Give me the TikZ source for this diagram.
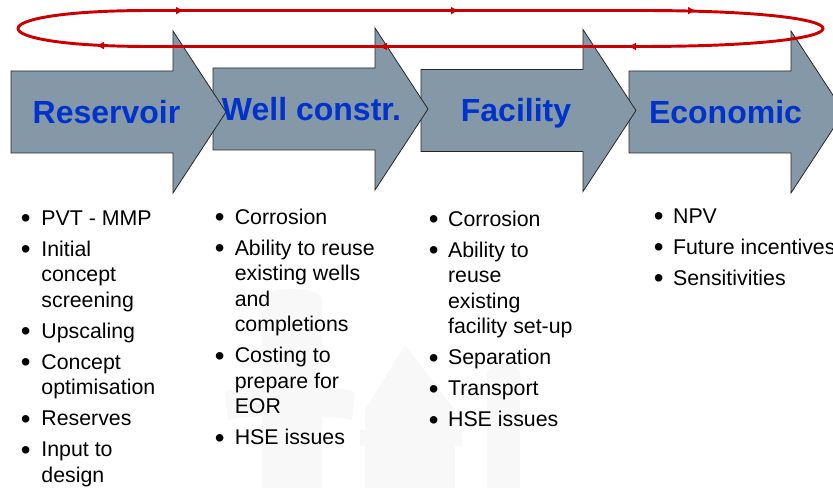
\documentclass[tikz,border=0pt]{standalone}
\usepackage{fontspec}
\setmainfont{Liberation Sans}
\usetikzlibrary{arrows.meta}

\definecolor{stagegray}{RGB}{133,152,168}
\definecolor{stageblue}{RGB}{0,51,204}
\definecolor{cyclered}{RGB}{204,0,0}
\definecolor{markgray}{RGB}{248,248,248}

\tikzset{
  stage/.style={fill=stagegray, draw=black!85, line width=0.6pt, line join=miter},
  stagelabel/.style={anchor=base, inner sep=0pt, text=stageblue,
    font=\fontsize{24}{28}\selectfont\bfseries},
  tasklist/.style={anchor=base west, inner sep=0pt, font=\fontsize{16}{19.1}\selectfont},
  cyclepath/.style={draw=cyclered, line width=2.2pt},
  cycletip/.style={cyclepath, -{Latex[length=6pt,width=6pt]}},
}
\newcommand{\itemgap}{4.1pt}
\newcommand{\blt}{\raisebox{-1.8pt}{\scalebox{1.3}{\textbullet}}}

\begin{document}
\begin{tikzpicture}[x=0.75pt,y=-0.75pt]
  \useasboundingbox (0,0) rectangle (833,488);

  % faint logo in the background
  \begin{scope}[fill=markgray]
    \fill (262,488) -- (262,300) .. controls (262,285) and (322,285) .. (322,300) -- (322,488) -- cycle;
    \fill (225,392) .. controls (240,385) and (340,385) .. (355,392) -- (352,420) .. controls (330,414) and (250,414) .. (228,420) -- cycle;
    \fill (365,488) -- (365,410) -- (405,345) -- (455,410) -- (455,488) -- cycle;
    \fill (360,430) -- (462,430) -- (462,446) -- (360,446) -- cycle;
    \fill (487,488) -- (487,372) .. controls (495,360) and (512,360) .. (520,372) -- (520,488) -- cycle;
  \end{scope}

  % the four stages, last one first so each head lies on the next body
  \foreach \x/\y in {629/112, 421/110.5, 213/109, 11/112}
    \draw[stage] (\x,\y-41) -- ++(162,0) -- ++(0,-40) -- ++(53,81) -- ++(-53,81)
      -- ++(0,-40) -- ++(-162,0) -- cycle;

  \node[stagelabel] (res)  at (106.5,124)   {Reservoir};
  \node[stagelabel] (well) at (311.5,120.7) {Well constr.};
  \node[stagelabel] (fac)  at (516,122)     {Facility};
  \node[stagelabel] (eco)  at (725.5,123.3) {Economic};

  % iteration loop over all stages
  \draw[cyclepath] (150,10.5) -- (640,10.5) .. controls (884,10.5) and (884,46.5) .. (640,46.5)
    -- (150,46.5) .. controls (-26,46.5) and (-26,10.5) .. (150,10.5) -- cycle;
  \foreach \x in {184,459,696}
    \draw[cycletip] (\x-4,10.6) -- (\x,10.6);
  \foreach \x/\y in {96/45.6,379/46.5,628/46.5}
    \draw[cycletip] (\x+4,\y) -- (\x,\y);

  % task lists
  \node[tasklist] (resList) at (20.5,225.6) {\begin{tabular}[t]{@{}p{15.5pt}@{}l@{}}
    \blt & PVT - MMP\\[\itemgap]
    \blt & Initial\\ & concept\\ & screening\\[\itemgap]
    \blt & Upscaling\\[\itemgap]
    \blt & Concept\\ & optimisation\\[\itemgap]
    \blt & Reserves\\[\itemgap]
    \blt & Input to\\ & design
  \end{tabular}};
  \node[tasklist] (wellList) at (214.5,224.6) {\begin{tabular}[t]{@{}p{15pt}@{}l@{}}
    \blt & Corrosion\\[\itemgap]
    \blt & Ability to reuse\\ & existing wells\\ & and\\ & completions\\[\itemgap]
    \blt & Costing to\\ & prepare for\\ & EOR\\[\itemgap]
    \blt & HSE issues
  \end{tabular}};
  \node[tasklist] (facList) at (428.5,226.6) {\begin{tabular}[t]{@{}p{14.5pt}@{}l@{}}
    \blt & Corrosion\\[\itemgap]
    \blt & Ability to\\ & reuse\\ & existing\\ & facility set-up\\[\itemgap]
    \blt & Separation\\[\itemgap]
    \blt & Transport\\[\itemgap]
    \blt & HSE issues
  \end{tabular}};
  \node[tasklist] (ecoList) at (653.5,223.6) {\begin{tabular}[t]{@{}p{14.5pt}@{}l@{}}
    \blt & NPV\\[\itemgap]
    \blt & Future incentives\\[\itemgap]
    \blt & Sensitivities
  \end{tabular}};
\end{tikzpicture}
\end{document}
